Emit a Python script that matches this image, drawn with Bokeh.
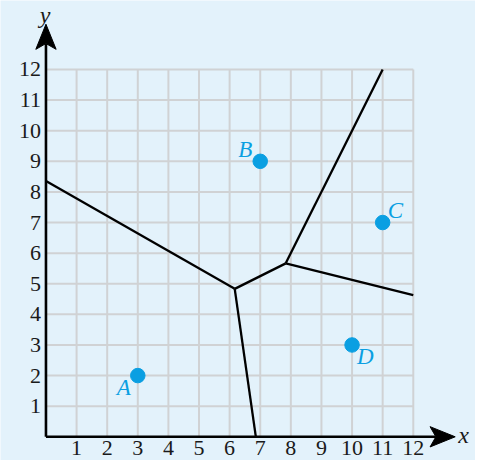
from bokeh.plotting import figure
from bokeh.models import Range1d
from bokeh.core.properties import value
from bokeh.embed import file_html
from bokeh.resources import INLINE

# ---- data ----
site_names = ["A", "B", "C", "D"]
site_x = [3, 7, 11, 10]
site_y = [2, 9, 7, 3]
x_ticks = list(range(1, 13))
y_ticks = list(range(1, 13))
grid_max = 12

# ---- styling / layout ----
BG = "#e3f2fb"
GRID = "#d0d2d4"
PT = "#0a9fe2"
TXT = "#1a1a1a"
W, H = 475, 460
K = W / 491.0           # overall scale vs. reference
SCALE = 31.64 * K       # px per unit
X0, Y0 = 47 * K, 451 * K  # origin inside the figure
x_start = -X0 / SCALE
x_end = (W - X0) / SCALE
y_start = -(H - Y0) / SCALE
y_end = Y0 / SCALE
x_tip, y_tip = 13.37, 13.48
DY = -7.5  # baseline correction

p = figure(width=W, height=H, output_backend="svg", toolbar_location=None,
           x_range=Range1d(x_start, x_end), y_range=Range1d(y_start, y_end),
           x_axis_type=None, y_axis_type=None, min_border=0)
p.outline_line_color = None
p.background_fill_color = BG
p.border_fill_color = BG
p.grid.visible = False

# grid
p.segment(x0=x_ticks, y0=[0] * len(x_ticks), x1=x_ticks, y1=[grid_max] * len(x_ticks),
          line_color=GRID, line_width=2)
p.segment(x0=[0] * len(y_ticks), y0=y_ticks, x1=[grid_max] * len(y_ticks), y1=y_ticks,
          line_color=GRID, line_width=2)

# Voronoi edges computed from sites
pts = dict(zip(site_names, zip(site_x, site_y)))


def bis(a, b):
    (x1, y1), (x2, y2) = pts[a], pts[b]
    A_, B_ = x2 - x1, y2 - y1
    C_ = A_ * (x1 + x2) / 2 + B_ * (y1 + y2) / 2
    return A_, B_, C_


def inter(l1, l2):
    a1, b1, c1 = l1
    a2, b2, c2 = l2
    d = a1 * b2 - a2 * b1
    return ((c1 * b2 - c2 * b1) / d, (a1 * c2 - a2 * c1) / d)


def at_x(l, x):
    a, b, c = l
    return (x, (c - a * x) / b)


def at_y(l, y):
    a, b, c = l
    return ((c - b * y) / a, y)


v1 = inter(bis("A", "B"), bis("A", "D"))
v2 = inter(bis("B", "C"), bis("C", "D"))
edges = [
    (v1, at_x(bis("A", "B"), 0)),
    (v1, at_y(bis("A", "D"), 0)),
    (v1, v2),
    (v2, at_y(bis("B", "C"), grid_max)),
    (v2, at_x(bis("C", "D"), grid_max)),
]
p.segment(x0=[e[0][0] for e in edges], y0=[e[0][1] for e in edges],
          x1=[e[1][0] for e in edges], y1=[e[1][1] for e in edges],
          line_color="black", line_width=2.3)

# axes
L, Wd, N = 26 * K / SCALE, 21 * K / SCALE, 6 * K / SCALE
p.segment(x0=[0, 0], y0=[0, 0], x1=[x_tip - L + N, 0], y1=[0, y_tip - L + N],
          line_color="black", line_width=2.6)
p.patch(x=[x_tip, x_tip - L, x_tip - L + N, x_tip - L],
        y=[0, Wd / 2, 0, -Wd / 2], fill_color="black", line_color="black")
p.patch(x=[0, Wd / 2, 0, -Wd / 2],
        y=[y_tip, y_tip - L, y_tip - L + N, y_tip - L], fill_color="black", line_color="black")

serif = value("Liberation Serif")
# tick labels
p.text(x=x_ticks, y=[0] * len(x_ticks), text=[str(t) for t in x_ticks],
       text_font=serif, text_font_size="22px", text_align="center",
       text_baseline="alphabetic", y_offset=19 + DY, text_color=TXT)
p.text(x=[0] * len(y_ticks), y=y_ticks, text=[str(t) for t in y_ticks],
       text_font=serif, text_font_size="22px", text_align="right",
       text_baseline="alphabetic", x_offset=-5, y_offset=7.5 + DY, text_color=TXT)

# axis names
p.text(x=[x_tip], y=[0], text=["x"], text_font=serif, text_font_style="italic",
       text_font_size="24px", text_align="left", text_baseline="alphabetic",
       x_offset=3, y_offset=4 + DY + 2, text_color=TXT)
p.text(x=[0], y=[y_tip], text=["y"], text_font=serif, text_font_style="italic",
       text_font_size="24px", text_align="center", text_baseline="alphabetic",
       x_offset=-1, y_offset=-2 + DY, text_color=TXT)

# sites
p.scatter(x=site_x, y=site_y, size=14.5, fill_color=PT, line_color=PT)
lab_dx = [-7, -8, 5, 5]
lab_dy = [19, -4, -5, 19]
lab_align = ["right", "right", "left", "left"]
for n, x, y, dx, dy, al in zip(site_names, site_x, site_y, lab_dx, lab_dy, lab_align):
    p.text(x=[x], y=[y], text=[n], text_font=serif, text_font_style="italic",
           text_font_size="23px", text_align=al, text_baseline="alphabetic",
           x_offset=dx, y_offset=dy + DY, text_color=PT)

open("out.html", "w").write(file_html(p, INLINE))
